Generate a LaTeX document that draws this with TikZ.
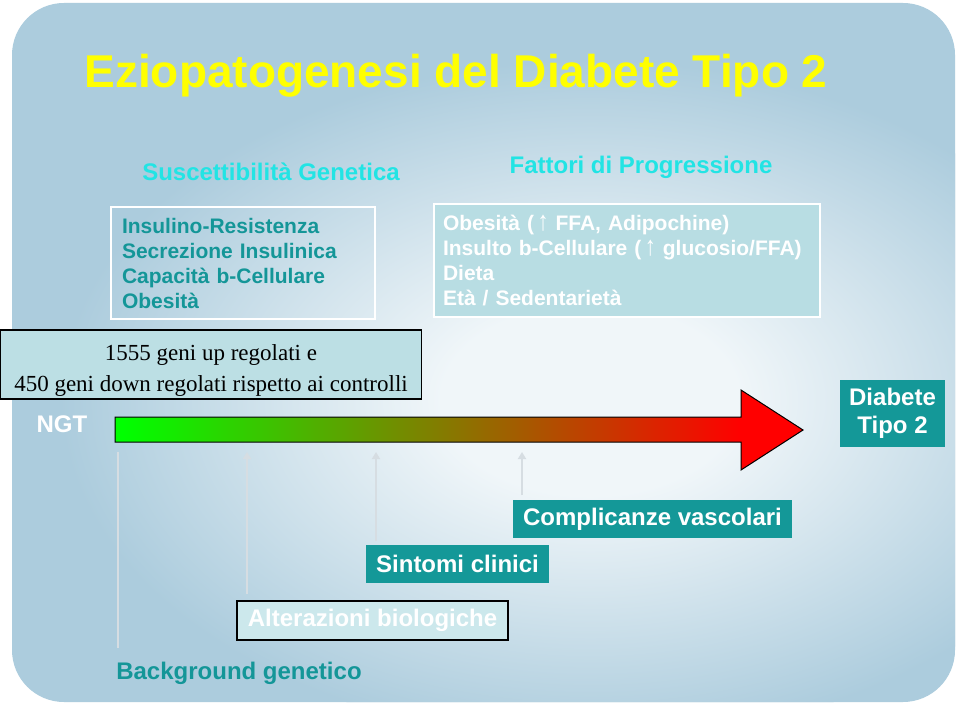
\documentclass[tikz,border=0pt]{standalone}
\usepackage{fontspec}
\setmainfont{Liberation Sans}
\newfontfamily\serifont{Liberation Serif}
\usetikzlibrary{arrows.meta}
\definecolor{bg}{RGB}{172,204,221}
\definecolor{bgin}{RGB}{240,246,249}
\definecolor{tealtx}{RGB}{20,150,152}
\definecolor{tealbx}{RGB}{20,152,152}
\definecolor{cyanh}{RGB}{34,228,228}
\definecolor{boxtwo}{RGB}{184,221,227}
\definecolor{boxthree}{RGB}{188,223,228}
\definecolor{altfill}{RGB}{204,232,236}
\definecolor{lightarr}{RGB}{214,221,226}
\definecolor{ttl}{RGB}{255,255,0}
\pgfdeclareradialshading{bgshade}{\pgfpoint{0bp}{0bp}}{color(0bp)=(bgin); color(7bp)=(bgin); color(25bp)=(bg); color(50bp)=(bg)}
\pgfdeclarehorizontalshading{arrowshade}{100bp}{color(0bp)=(green); color(25.5bp)=(green); color(70.5bp)=(red); color(100bp)=(red)}
\newcommand{\uparr}{\,{\mdseries\scalebox{1.05}[1.3]{↑}}}
\begin{document}
\begin{tikzpicture}[x=1pt,y=-1pt,
  titlestyle/.style={text=ttl, font=\fontsize{46}{50}\selectfont\bfseries, inner sep=0pt},
  heading/.style={text=cyanh, font=\fontsize{24}{28}\selectfont\bfseries, inner sep=0pt},
  listbox/.style={line width=2pt, draw=white, align=left, font=\fontsize{21}{25}\selectfont\bfseries, inner ysep=0pt},
  genebox/.style={fill=boxthree, draw=black, line width=1.2pt, align=center, minimum width=421pt, minimum height=69pt, inner sep=0pt, font=\serifont\fontsize{23}{31}\selectfont},
  tealbox/.style={fill=tealbx, text=white, font=\fontsize{24}{28}\selectfont\bfseries, inner sep=0pt},
  altbox/.style={fill=altfill, draw=black, line width=1.2pt, text=white, font=\fontsize{24}{28}\selectfont\bfseries, inner sep=0pt},
  plainlabel/.style={font=\fontsize{24}{28}\selectfont\bfseries, inner sep=0pt},
  liftarrow/.style={draw=lightarr, line width=2.6pt},
  liftarrowhead/.style={liftarrow, -{Triangle[length=7pt,width=8pt]}}
]
\useasboundingbox (0,0) rectangle (960,708);
\fill[white] (0,0) rectangle (960,708);
\fill[bg, rounded corners=52pt] (12,3) rectangle (955,702);
\begin{scope}
  \clip[rounded corners=52pt] (12,3) rectangle (955,702);
  \shade[shading=bgshade] (590,400) ellipse [x radius=530pt, y radius=340pt];
\end{scope}

% title and headings
\node[titlestyle] (title) at (456,76) {Eziopatogenesi del Diabete Tipo 2};
\node[heading] (hsus) at (271,172) {Suscettibilità Genetica};
\node[heading] (hfat) at (641,167) {Fattori di Progressione};

% boxes
\node[listbox, text=tealtx, text width=242pt, inner xsep=11pt, minimum height=112pt] (sus) at (243,263)
  {Insulino-Resistenza\\Secrezione Insulinica\\Capacità b-Cellulare\\Obesità};
\node[listbox, fill=boxtwo, text=white, text width=368pt, inner xsep=9pt, minimum height=113pt] (fat) at (627,260.5)
  {Obesità (\uparr{} FFA, Adipochine)\\Insulto b-Cellulare (\uparr{} glucosio/FFA)\\Dieta\\Età / Sedentarietà};
\node[genebox] (genes) at (211,364.5)
  {\rule{0pt}{27pt}1555 geni up regolati e\\450 geni down regolati rispetto ai controlli};

% timeline
\node[plainlabel, text=white] (ngt) at (62,424) {NGT};
\shadedraw[shading=arrowshade, draw=black, line width=1pt]
  (115,417) -- (741,417) -- (741,390) -- (803,430) -- (741,470) -- (741,442) -- (115,442) -- cycle;
\node[inner sep=0pt, minimum width=626pt, minimum height=25pt] (shaft) at (428,429.5) {};
\node[tealbox, align=center, minimum width=105pt, minimum height=67pt] (dt2) at (892.5,413.5) {Diabete\\Tipo 2};

% stages
\node[tealbox, minimum width=279pt, minimum height=38pt] (comp) at (652.5,519) {Complicanze vascolari};
\node[tealbox, minimum width=183pt, minimum height=38pt] (sint) at (457.5,564) {Sintomi clinici};
\node[altbox, minimum width=271pt, minimum height=39pt] (alt) at (372.5,620.5) {Alterazioni biologiche};
\node[plainlabel, text=tealtx] (bgen) at (239,673) {Background genetico};

% lift arrows
\coordinate (e1) at (118,452);
\coordinate (e2) at (247,452);
\coordinate (e3) at (376,452);
\coordinate (e4) at (522,452);
\coordinate (s1) at (118,648);
\coordinate (s2) at (247,594);
\coordinate (s3) at (376,541);
\coordinate (s4) at (522,495);
\draw[liftarrow] (s1) -- (e1);
\draw[liftarrowhead] (s2) -- (e2);
\draw[liftarrowhead] (s3) -- (e3);
\draw[liftarrowhead] (s4) -- (e4);
\end{tikzpicture}
\end{document}
